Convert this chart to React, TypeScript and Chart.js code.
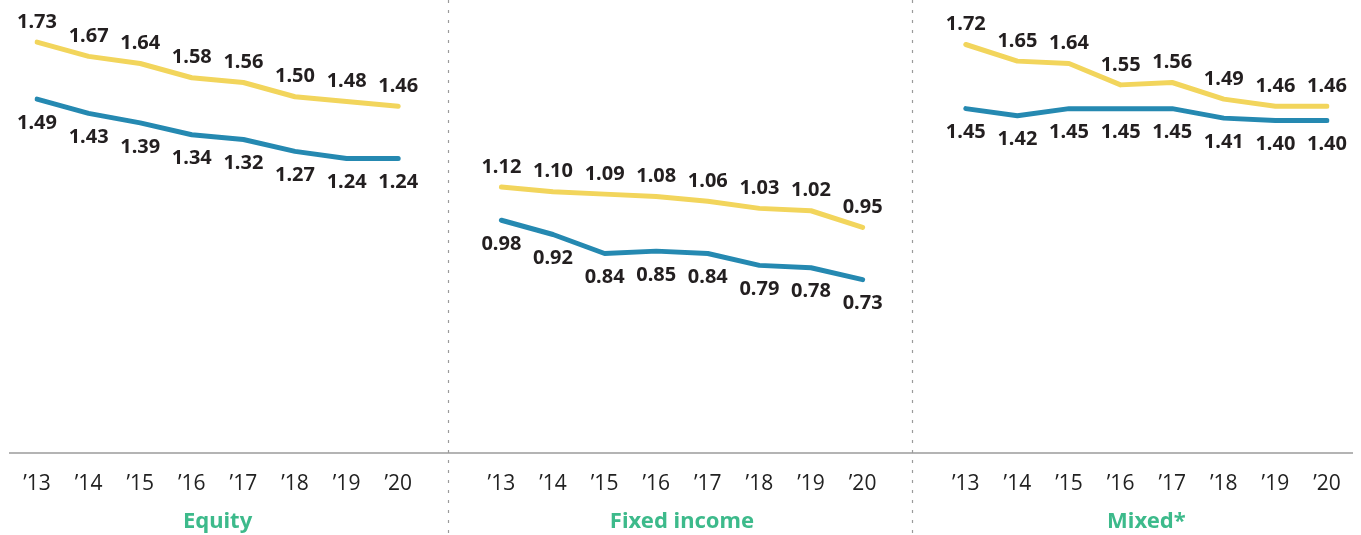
import { useEffect, useRef } from 'react';
import { Chart, registerables } from 'chart.js';

Chart.register(...registerables);

const years = ['’13', '’14', '’15', '’16', '’17', '’18', '’19', '’20'];
const panelTitles = ['Equity', 'Fixed income', 'Mixed*'];

const equityYellow = [1.73, 1.67, 1.64, 1.58, 1.56, 1.5, 1.48, 1.46];
const equityBlue = [1.49, 1.43, 1.39, 1.34, 1.32, 1.27, 1.24, 1.24];
const fixedYellow = [1.12, 1.1, 1.09, 1.08, 1.06, 1.03, 1.02, 0.95];
const fixedBlue = [0.98, 0.92, 0.84, 0.85, 0.84, 0.79, 0.78, 0.73];
const mixedYellow = [1.72, 1.65, 1.64, 1.55, 1.56, 1.49, 1.46, 1.46];
const mixedBlue = [1.45, 1.42, 1.45, 1.45, 1.45, 1.41, 1.4, 1.4];

const YELLOW = '#F2D55C';
const BLUE = '#2589B1';
const GREEN = '#3DBA8B';
const TEXT = '#231F20';
const AXIS = '#9B9B9B';

const join = (a: (number | null)[], b: (number | null)[], c: (number | null)[]) => [...a, null, ...b, null, ...c];
const labels = [...years, '', ...years, '', ...years];
const gapIndices = [years.length, years.length * 2 + 1];
const titleIndices = [
  (years.length - 1) / 2,
  years.length + 1 + (years.length - 1) / 2,
  2 * (years.length + 1) + (years.length - 1) / 2,
];

const decorPlugin = {
  id: 'decor',
  afterDatasetsDraw(chart: any) {
    const { ctx, scales } = chart;
    const x = scales.x;
    const y = scales.y;
    ctx.save();
    // axis line
    const y0 = y.getPixelForValue(0);
    ctx.strokeStyle = AXIS;
    ctx.lineWidth = 1.5;
    ctx.beginPath();
    ctx.moveTo(9, y0);
    ctx.lineTo(1353, y0);
    ctx.stroke();
    // separators
    ctx.setLineDash([3, 7]);
    ctx.lineWidth = 1.2;
    gapIndices.forEach((i) => {
      const px = Math.round(x.getPixelForValue(i)) - 1.5;
      ctx.beginPath();
      ctx.moveTo(px, 0);
      ctx.lineTo(px, chart.height);
      ctx.stroke();
    });
    ctx.setLineDash([]);
    // data labels
    ctx.font = '700 20px "Noto Sans"';
    ctx.fillStyle = TEXT;
    ctx.textAlign = 'center';
    ctx.textBaseline = 'middle';
    chart.data.datasets.forEach((ds: any, di: number) => {
      const meta = chart.getDatasetMeta(di);
      const off = ds.labelOffset as number;
      meta.data.forEach((pt: any, i: number) => {
        const v = ds.data[i];
        if (v === null || v === undefined) return;
        ctx.fillText(v.toFixed(2), pt.x, pt.y + off);
      });
    });
    // panel titles
    ctx.font = '700 22px "Noto Sans"';
    ctx.fillStyle = GREEN;
    titleIndices.forEach((ti, k) => {
      ctx.fillText(panelTitles[k], x.getPixelForValue(ti), 522);
    });
    ctx.restore();
  },
};

export default function App() {
  const ref = useRef<HTMLCanvasElement | null>(null);
  useEffect(() => {
    if (!ref.current) return;
    const chart = new Chart(ref.current, {
      type: 'line',
      data: {
        labels,
        datasets: [
          {
            label: 'Yellow',
            data: join(equityYellow, fixedYellow, mixedYellow),
            borderColor: YELLOW,
            backgroundColor: YELLOW,
            borderWidth: 5,
            pointRadius: 0,
            tension: 0,
            spanGaps: false,
            borderCapStyle: 'round',
            borderJoinStyle: 'round',
            labelOffset: -20,
          } as any,
          {
            label: 'Blue',
            data: join(equityBlue, fixedBlue, mixedBlue),
            borderColor: BLUE,
            backgroundColor: BLUE,
            borderWidth: 5,
            pointRadius: 0,
            tension: 0,
            spanGaps: false,
            borderCapStyle: 'round',
            borderJoinStyle: 'round',
            labelOffset: 24,
          } as any,
        ],
      },
      options: {
        animation: false,
        responsive: false,
        layout: { padding: { left: 37, right: 34, top: 25.5, bottom: 0 } },
        plugins: { legend: { display: false }, tooltip: { enabled: false } },
        scales: {
          x: {
            type: 'category',
            offset: false,
            grid: { display: false, drawTicks: false },
            border: { display: false },
            ticks: {
              autoSkip: false,
              maxRotation: 0,
              padding: 18,
              color: '#222222',
              font: { family: '"Open Sans"', size: 21, weight: '400' as any },
            },
            afterFit: (scale: any) => {
              scale.height = 82;
            },
          },
          y: {
            display: false,
            min: 0,
            max: 1.8,
          },
        },
      },
      plugins: [decorPlugin],
    });
    return () => chart.destroy();
  }, []);
  return (
    <div style={{ position: 'fixed', left: 0, top: 0, width: 1361, height: 535, background: '#fff' }}>
      <canvas ref={ref} width={1361} height={535} style={{ display: 'block' }} />
    </div>
  );
}
